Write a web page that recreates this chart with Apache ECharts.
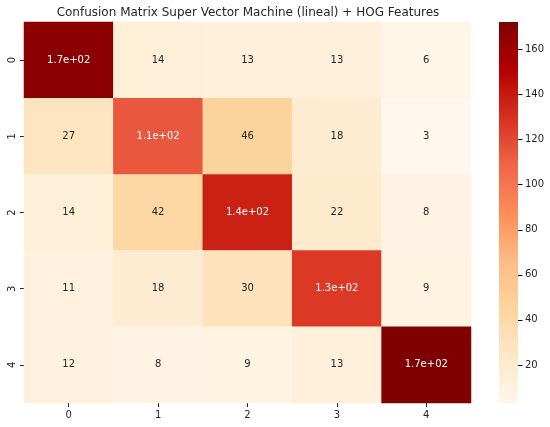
<!DOCTYPE html>
<html><head><meta charset="utf-8">
<style>html,body{margin:0;padding:0;background:#fff}#c{width:550px;height:427px}</style>
<script src="https://cdn.jsdelivr.net/npm/echarts@6/dist/echarts.min.js"></script>
</head><body><div id="c"></div>
<script>
const categories = ['0','1','2','3','4'];
const row0 = [167,14,13,13,6];
const row1 = [27,114,46,18,3];
const row2 = [14,42,137,22,8];
const row3 = [11,18,30,126,9];
const row4 = [12,8,9,13,172];
const rows = [row0,row1,row2,row3,row4];
const colorbarTicks = [20,40,60,80,100,120,140,160];
const orRd = ['#fff7ec','#fee8c8','#fdd49e','#fdbb84','#fc8d59','#ef6548','#d7301f','#b30000','#7f0000'];
const vMin = 3, vMax = 172;
const tickMin = 20, tickMax = 160, tickStep = 20;
const cells = [];
rows.forEach((r,y)=>r.forEach((v,x)=>cells.push({value:[x,y,v],label:{color:v>=100?'#ffffff':'#262626'}})));
const fmt = v => v>=100 ? v.toExponential(1).replace('e+2','e+02') : String(v);
const font = 'DejaVu Sans';
const tickStyle = {color:'#262626',width:1};
const chart = echarts.init(document.getElementById('c'),null,{renderer:'canvas'});
chart.setOption({
  animation:false,
  backgroundColor:'#fff',
  textStyle:{fontFamily:font},
  title:{text:'Confusion Matrix Super Vector Machine (lineal) + HOG Features',left:243,top:2,textAlign:'center',
    textStyle:{fontFamily:font,fontSize:12,fontWeight:'normal',color:'#262626'}},
  grid:[{left:24,top:22,width:447,height:381},
        {left:499,top:49,width:19,height:316}],
  xAxis:[{type:'category',data:categories,gridIndex:0,position:'bottom',
      axisLine:{show:false},splitLine:{show:false},splitArea:{show:false},
      axisTick:{show:true,alignWithLabel:true,length:4,lineStyle:tickStyle},
      axisLabel:{fontFamily:font,fontSize:10,color:'#262626',margin:7}},
    {type:'value',gridIndex:1,min:0,max:1,show:false}],
  yAxis:[{type:'category',data:categories,gridIndex:0,inverse:true,
      axisLine:{show:false},splitLine:{show:false},splitArea:{show:false},
      axisTick:{show:true,alignWithLabel:true,length:4,lineStyle:tickStyle},
      axisLabel:{fontFamily:font,fontSize:10,color:'#262626',rotate:90,margin:7}},
    {type:'value',gridIndex:1,position:'right',min:tickMin,max:tickMax,interval:tickStep,
      axisLine:{show:false},splitLine:{show:false},axisTick:{show:false},
      axisLabel:{fontFamily:font,fontSize:10,color:'#262626',margin:7}}],
  visualMap:{type:'continuous',seriesIndex:0,min:vMin,max:vMax,calculable:false,show:false,
    inRange:{color:orRd}},
  series:[
    {type:'heatmap',xAxisIndex:0,yAxisIndex:0,data:cells,
      label:{show:true,fontFamily:font,fontSize:10,formatter:p=>fmt(p.value[2])},
      itemStyle:{borderWidth:0}},
    {type:'custom',xAxisIndex:1,yAxisIndex:1,silent:true,z:1,data:[[0,vMin,1,vMax]],
      encode:{x:[0,2],y:[1,3]},clip:false,
      renderItem:(params,api)=>{
        const a=api.coord([api.value(0),api.value(1)]);
        const b=api.coord([api.value(2),api.value(3)]);
        const stops=orRd.map((c,i)=>({offset:1-i/(orRd.length-1),color:c}));
        return {type:'rect',shape:{x:a[0],y:b[1],width:b[0]-a[0],height:a[1]-b[1]},
          style:{fill:new echarts.graphic.LinearGradient(0,0,0,1,stops)}};
      }},
    {type:'custom',xAxisIndex:1,yAxisIndex:1,silent:true,z:3,data:colorbarTicks.map(t=>[1,t]),
      encode:{x:0,y:1},clip:false,
      renderItem:(params,api)=>{
        const p=api.coord([api.value(0),api.value(1)]);
        const y=Math.round(p[1])+0.5;
        return {type:'line',shape:{x1:p[0],y1:y,x2:p[0]+4.5,y2:y},style:{stroke:'#000000',lineWidth:1,opacity:1}};
      }}
  ]
});
</script></body></html>
